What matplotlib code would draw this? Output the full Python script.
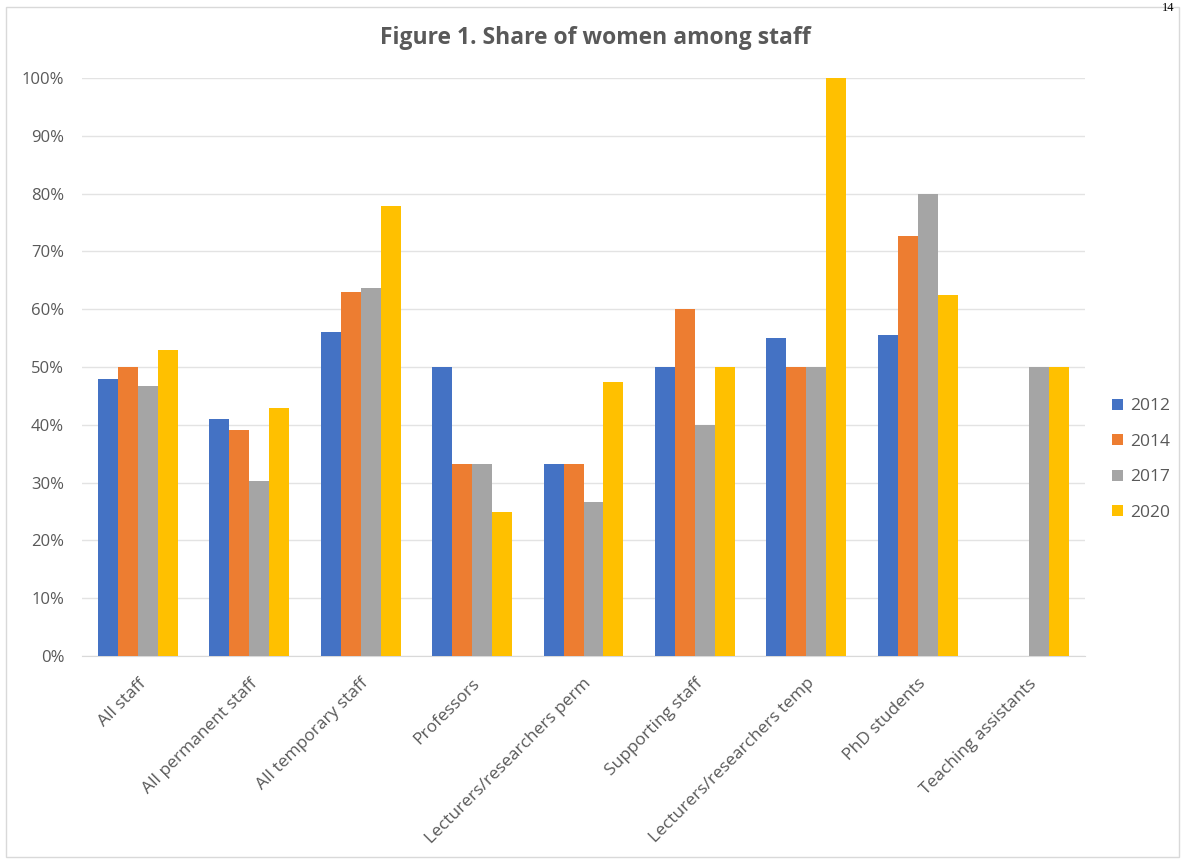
import numpy as np
import matplotlib
matplotlib.use("Agg")
import matplotlib.pyplot as plt
from matplotlib.patches import Rectangle
from matplotlib.ticker import PercentFormatter

plt.rcParams['font.family'] = ['Open Sans', 'DejaVu Sans']

categories = ["All staff", "All permanent staff", "All temporary staff", "Professors",
              "Lecturers/researchers perm", "Supporting staff",
              "Lecturers/researchers temp", "PhD students", "Teaching assistants"]
years = ["2012", "2014", "2017", "2020"]
share_2012 = [48.0, 41.0, 56.0, 50.0, 33.3, 50.0, 55.0, 55.6, np.nan]
share_2014 = [50.0, 39.1, 63.0, 33.3, 33.3, 60.0, 50.0, 72.7, np.nan]
share_2017 = [46.7, 30.3, 63.6, 33.3, 26.7, 40.0, 50.0, 80.0, 50.0]
share_2020 = [53.0, 42.9, 77.8, 25.0, 47.4, 50.0, 100.0, 62.5, 50.0]
series = [share_2012, share_2014, share_2017, share_2020]
colors = ["#4472C4", "#ED7D31", "#A5A5A5", "#FFC000"]

W, H = 1181, 859
fig = plt.figure(figsize=(W / 100, H / 100), dpi=100)
ax = fig.add_axes([82.3 / W, 1 - 656 / H, (1084.7 - 82.3) / W, (656 - 78) / H])

x = np.arange(len(categories))
bw = 0.1795
for i, (vals, c, yr) in enumerate(zip(series, colors, years)):
    ax.bar(x + (i - 1.5) * bw, np.array(vals) / 100, width=bw, color=c, label=yr, zorder=3)

ax.set_xlim(-0.5, len(categories) - 0.5)
ax.set_ylim(0, 1)
ax.set_yticks(np.arange(0, 1.01, 0.1))
ax.yaxis.set_major_formatter(PercentFormatter(1.0, decimals=0))
ax.grid(axis='y', color="#E3E3E3", linewidth=1, zorder=0)
for s in ["top", "right", "left"]:
    ax.spines[s].set_visible(False)
ax.spines["bottom"].set_color("#D9D9D9")
ax.tick_params(axis='both', length=0, colors="#595959")
ax.tick_params(axis='y', pad=13, labelsize=12)
ax.set_xticks(x)
ax.set_xticklabels(categories, rotation=45, ha='right', rotation_mode='anchor')
ax.tick_params(axis='x', pad=14, labelsize=12.5)

fig.text(595 / W, 1 - 38 / H, "Figure 1. Share of women among staff", ha='center', va='center',
         fontsize=16.5, fontweight='bold', color="#595959")

leg = ax.legend(loc='center left', bbox_to_anchor=(1.012, 0.34), frameon=False,
                handlelength=0.6, handleheight=0.6, labelspacing=1.12, handletextpad=0.4,
                fontsize=12.5)
for t in leg.get_texts():
    t.set_color("#595959")

fig.patches.append(Rectangle((6 / W, 1 - 857 / H), (1179 - 6) / W, (857 - 7) / H,
                             transform=fig.transFigure, fill=False, edgecolor="#D9D9D9",
                             linewidth=1))
fig.text(1162 / W, 1 - 2 / H, "14", ha='left', va='top', fontsize=9, color="#000000",
         family=['Liberation Serif', 'DejaVu Serif'])

fig.savefig("out.png", dpi=100)
